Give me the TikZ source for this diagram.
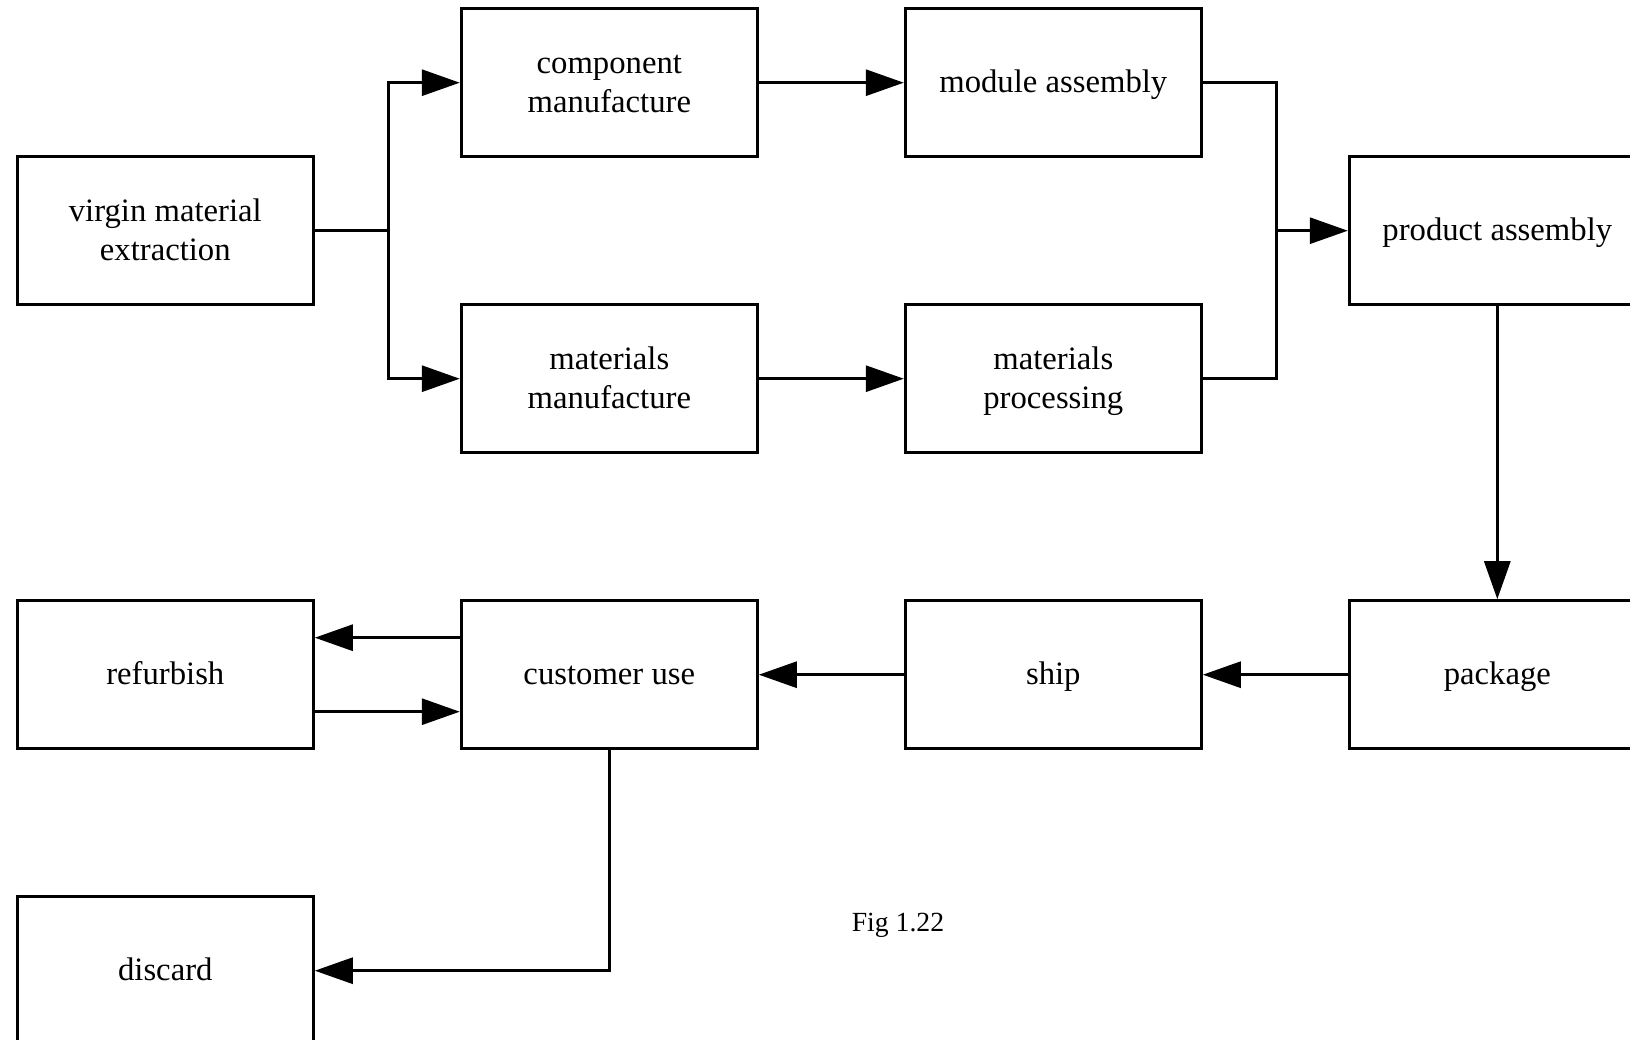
\documentclass[tikz,border=0pt]{standalone}
\usepackage{fontspec}
\setmainfont{Liberation Serif}
\usetikzlibrary{arrows.meta}
% invisible strut that fixes the height and depth of every label line
\newcommand\linestrut{\rule[-9pt]{0pt}{38.5pt}}
\begin{document}
\begin{tikzpicture}[x=1pt,y=-1pt,
  stagebox/.style={draw, line width=3pt, minimum width=296pt, minimum height=148pt,
    inner sep=0pt, align=center, font=\fontsize{32.7}{39.5}\selectfont},
  link/.style={line width=3pt},
  flow/.style={line width=3pt, -{Triangle[length=38pt,width=26pt]}},
  caption/.style={font=\fontsize{27.7}{33}\selectfont}]
\useasboundingbox (0,0) rectangle (1630,1040);
\clip (0,0) rectangle (1630,1040);

% process stages on a 444 x 148 grid
\node[stagebox] (virgin)  at (165.3,230.7) {\linestrut virgin material\\\linestrut extraction};
\node[stagebox] (comp)    at (609.3,82.7)  {\linestrut component\\\linestrut manufacture};
\node[stagebox] (module)  at (1053.3,82.7) {\linestrut module assembly};
\node[stagebox] (matman)  at (609.3,378.7) {\linestrut materials\\\linestrut manufacture};
\node[stagebox] (matproc) at (1053.3,378.7) {\linestrut materials\\\linestrut processing};
\node[stagebox] (product) at (1497.3,230.7) {\linestrut product assembly};
\node[stagebox] (package) at (1497.3,674.7) {\linestrut package};
\node[stagebox] (ship)    at (1053.3,674.7) {\linestrut ship};
\node[stagebox] (cust)    at (609.3,674.7) {\linestrut customer use};
\node[stagebox] (refurb)  at (165.3,674.7) {\linestrut refurbish};
\node[stagebox] (discard) at (165.3,970.7) {\linestrut discard};
\node[caption] (fig) at (898,925) {Fig 1.22};

% branch and merge points
\coordinate (split) at (388,230.7);
\coordinate (merge) at (1276.7,230.7);

\draw[link] (virgin.east) -- (split);
\draw[flow] (split) |- (comp.west);
\draw[flow] (split) |- (matman.west);
\draw[flow] (comp.east) -- (module.west);
\draw[flow] (matman.east) -- (matproc.west);
\draw[link] (module.east) -| (merge);
\draw[link] (matproc.east) -| (merge);
\draw[flow] (merge) -- (product.west);
\draw[flow] (product.south) -- (package.north);
\draw[flow] (package.west) -- (ship.east);
\draw[flow] (ship.west) -- (cust.east);
\draw[flow] ([yshift=37pt]cust.west) -- ([yshift=37pt]refurb.east);
\draw[flow] ([yshift=-37pt]refurb.east) -- ([yshift=-37pt]cust.west);
\draw[flow] (cust.south) |- (discard.east);
\end{tikzpicture}
\end{document}
